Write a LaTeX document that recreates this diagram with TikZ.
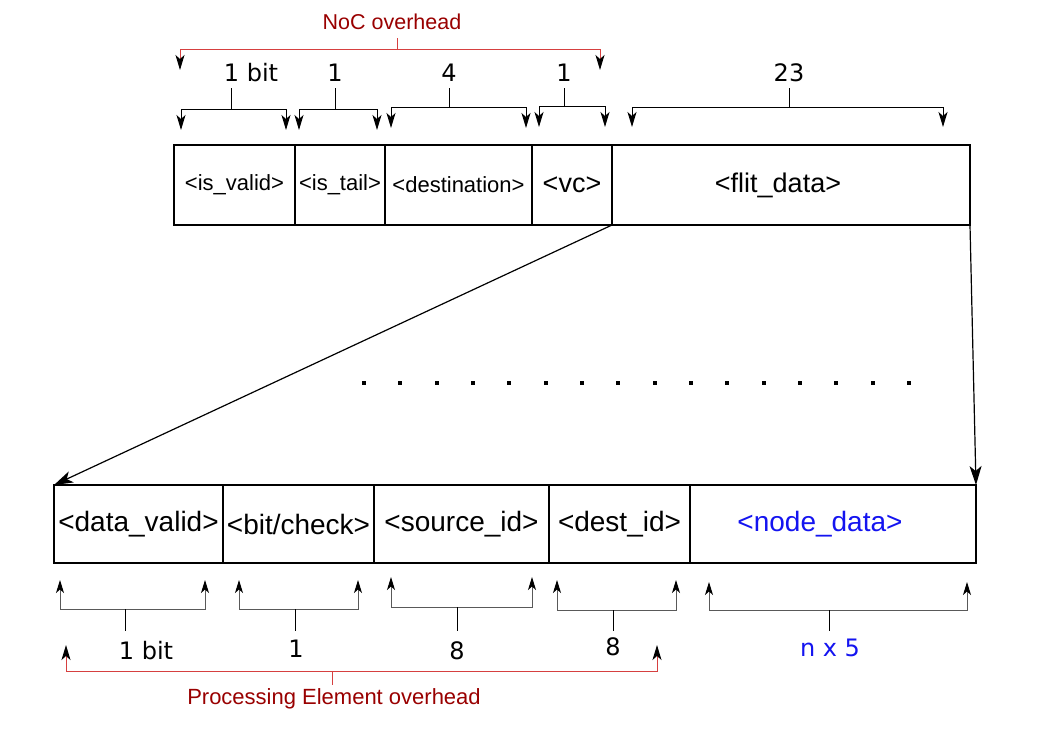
\documentclass[tikz,border=0pt]{standalone}
\usepackage{fontspec}
\setmainfont{Liberation Sans}
\newfontfamily\numfont{DejaVu Sans}
\usetikzlibrary{positioning, arrows.meta}
\definecolor{ovhred}{RGB}{153,0,0}
\definecolor{ovhline}{RGB}{214,64,64}
\definecolor{nodeblue}{RGB}{20,20,240}
\tikzstyle{topfield} = [rectangle, minimum height=80pt, inner sep=0pt, outer sep=0pt, draw=black, line width=1.3pt, font=\fontsize{22}{26}\selectfont]
\tikzstyle{botfield} = [rectangle, minimum height=78pt, inner sep=0pt, outer sep=0pt, draw=black, line width=1.3pt, font=\fontsize{28}{32}\selectfont]
\tikzstyle{arrow} = [line width=1.2pt, -{Stealth[length=19pt, width=12pt, inset=5pt]}]
\tikzstyle{bracketdown} = [line width=1pt, {Stealth[length=15pt, width=9pt, inset=4pt]}-{Stealth[length=15pt, width=9pt, inset=4pt]}]
\tikzstyle{bracketup} = [line width=1pt, draw=black!65, {Stealth[length=13pt, width=8pt, inset=3.5pt, black]}-{Stealth[length=13pt, width=8pt, inset=3.5pt, black]}]
\tikzstyle{redbracket} = [line width=1pt, draw=ovhline, {Stealth[length=15pt, width=9pt, inset=4pt, black]}-{Stealth[length=15pt, width=9pt, inset=4pt, black]}]
\tikzstyle{bitcount} = [font=\numfont\fontsize{24}{28}\selectfont]
\tikzstyle{overhead} = [text=ovhred, font=\fontsize{21.5}{26}\selectfont]

\begin{document}
\begin{tikzpicture}[x=1pt, y=-1pt]
\useasboundingbox (0,0) rectangle (1053,745);

% Flit fields
\node (valid) [topfield, minimum width=121pt, anchor=north west] at (174,145) {\raisebox{-3pt}{<is\_valid>}};
\node (tail) [topfield, minimum width=90pt, right=0pt of valid] {\raisebox{-3pt}{<is\_tail>}};
\node (dest) [topfield, minimum width=147pt, right=0pt of tail] {\raisebox{-3pt}{<destination>}};
\node (vc) [topfield, minimum width=80pt, right=0pt of dest, font=\fontsize{27}{32}\selectfont] {\raisebox{-3pt}{<vc>}};
\node (flit) [topfield, minimum width=358pt, right=0pt of vc, font=\fontsize{27}{32}\selectfont] {\raisebox{-3pt}{<flit\_data>}\hspace*{26pt}};

% Payload fields
\node (dvalid) [botfield, minimum width=169pt, anchor=north west] at (54,485) {\raisebox{-3pt}{<data\_valid>}};
\node (check) [botfield, minimum width=151pt, right=0pt of dvalid] {\raisebox{-3pt}{<bit/check>}};
\node (srcid) [botfield, minimum width=175pt, right=0pt of check] {\raisebox{-3pt}{<source\_id>}};
\node (dstid) [botfield, minimum width=141pt, right=0pt of srcid] {\raisebox{-3pt}{<dest\_id>}};
\node (ndata) [botfield, minimum width=286pt, right=0pt of dstid, text=nodeblue] {\raisebox{-3pt}{<node\_data>}\hspace*{26pt}};

% Arrows
\draw [arrow] (flit.south west) -- (dvalid.north west);
\draw [arrow] (flit.south east) -- (ndata.north east);

% dots
\foreach \i in {0,...,15}
  \fill (362+36.33*\i,381) rectangle ++(4,4);

% NoC overhead
\node (noc) [overhead] at (392,22) {NoC overhead};
\draw [redbracket] (180,70) |- (600,49) -- (600,70);
\draw [ovhline, line width=1pt] (397,49) -- (397,38);

% Bit counts, top
\foreach \xa/\xb/\yh/\yt/\xs/\lab/\xl in {181/286/109/130/231/1 bit/251, 299/377/109/130/335/1/335, 391/526/107/128/449/4/449, 539/605/106/127/564/1/564, 632/943/107/127/789/23/789}
{
  \draw [bracketdown] (\xa,\yt) |- (\xb,\yh) -- (\xb,\yt);
  \draw [line width=1pt] (\xs,\yh) -- (\xs,88);
  \node (top\xs) [bitcount] at (\xl,73) {\lab};
}

% Bit counts, bottom
\foreach \xa/\xb/\yh/\yt/\xs/\lab/\xl/\yl in {60/205/609/580/125/1 bit/146/651, 239/358/609/580/295/1/296/649, 391/532/607/577/457/8/457/651, 557/676/610/580/613/8/613/647}
{
  \draw [bracketup] (\xa,\yt) |- (\xb,\yh) -- (\xb,\yt);
  \draw [line width=1pt] (\xs,\yh) -- (\xs,631);
  \node (bot\xs) [bitcount] at (\xl,\yl) {\lab};
}
\draw [bracketup] (709,582) |- (967,610) -- (967,582);
\draw [line width=1pt] (829,610) -- (829,631);
\node (nbits) [bitcount, text=nodeblue] at (830,648) {n x 5};

% Processing Element overhead
\draw [redbracket] (66,645) |- (657,671) -- (657,645);
\draw [ovhline, line width=1pt] (332,671) -- (332,685);
\node (pe) [overhead, font=\fontsize{22}{26}\selectfont] at (334,699) {Processing Element overhead};

\end{tikzpicture}
\end{document}
